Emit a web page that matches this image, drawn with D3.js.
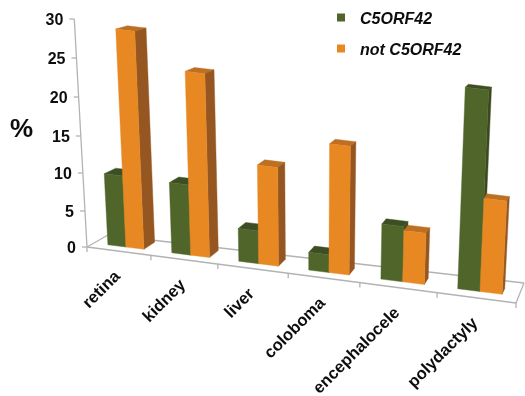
<!DOCTYPE html>
<html>
<head>
<meta charset="utf-8">
<script src="https://cdn.jsdelivr.net/npm/d3@7"></script>
<style>
    html, body { margin: 0; padding: 0; background: #fff; }
    svg { display: block; }
    text { font-family: "Liberation Sans", Arial, sans-serif; font-weight: bold; fill: #111; }
</style>
</head>
<body>
<svg width="525" height="396"></svg>
<script>
const categories = ["retina", "kidney", "liver", "coloboma", "encephalocele", "polydactyly"];
const c5orf42 = [9.7, 9.6, 4.6, 2.5, 7.6, 27];
const notC5orf42 = [29, 24.6, 13.5, 17.5, 7.1, 12.8];
const valueTicks = [0, 5, 10, 15, 20, 25, 30];
const legendLabels = ["C5ORF42", "not C5ORF42"];

const svg = d3.select("svg");

// floor corners of the 3d box
const floor = { fl: [87, 247], fr: [516, 303], bl: [108, 235], br: [524, 283] };
const vanish = { x: 310, dist: 4000 };

// category axis gets wider to the right, value axis a bit tighter near the floor
const scaleT = d3.scaleLinear().domain(d3.range(7)).range([0, 0.149, 0.305, 0.469, 0.636, 0.816, 1]);
const scaleH = d3.scaleLinear().domain(valueTicks).range([0, 36, 74, 111, 150, 189, 228]);

function project(t, d, v) {
    const u = scaleT(t);
    const mix = (a, b, k) => a + (b - a) * k;
    const frontX = mix(floor.fl[0], floor.fr[0], u);
    const frontY = mix(floor.fl[1], floor.fr[1], u);
    const backX = mix(floor.bl[0], floor.br[0], u);
    const backY = mix(floor.bl[1], floor.br[1], u);
    const h = scaleH(v);
    const fx = mix(frontX, backX, d);
    const dy = (backY - frontY) * d * (1 - h / 420);
    return [fx + (fx - vanish.x) / vanish.dist * h, frontY + dy - h];
}

const line = d3.line();

function drawLine(pts, group) {
    group.append("path")
        .attr("d", line(pts))
        .attr("fill", "none")
        .attr("stroke", "#b3b3b3")
        .attr("stroke-width", 1.3);
}

const defs = svg.append("defs");
defs.append("filter").attr("id", "soft")
    .append("feGaussianBlur").attr("stdDeviation", 0.45);
defs.append("filter").attr("id", "softText")
    .append("feGaussianBlur").attr("stdDeviation", 0.3);

const labels = svg.append("g").attr("filter", "url(#softText)");

// axes
const axes = svg.append("g");
drawLine([project(0, 0, 0), project(0, 0, 30)], axes);
drawLine([project(0, 0, 0), project(6, 0, 0)], axes);
drawLine([project(0, 1, 0), project(6, 1, 0)], axes);
drawLine([project(0, 0, 0), project(0, 1, 0)], axes);
drawLine([project(6, 0, 0), project(6, 1, 0)], axes);

valueTicks.forEach(v => {
    const p = project(0, 0, v);
    drawLine([p, [p[0] - 5, p[1]]], axes);
    labels.append("text")
        .attr("x", p[0] - 11)
        .attr("y", p[1] + 6)
        .attr("text-anchor", "end")
        .attr("font-size", 16)
        .text(v);
});

d3.range(7).forEach(t => {
    const p = project(t, 0, 0);
    drawLine([p, [p[0], p[1] + 5]], axes);
});

// bars
const bars = svg.append("g").attr("filter", "url(#soft)");
const spanDepth = d3.scaleLinear().domain([0, 5]).range([0.55, 0.3]);

function drawBar(t0, t1, d0, d1, v, colors) {
    const corners = (val) => [
        project(t0, d0, val), project(t1, d0, val),
        project(t1, d1, val), project(t0, d1, val)
    ];
    const base = corners(0);
    const top = corners(v);
    const face = (pts, fill) => bars.append("path")
        .attr("d", line(pts) + "Z")
        .attr("fill", fill)
        .attr("stroke", fill)
        .attr("stroke-width", 0.4);
    face(top, colors.top);
    face([base[1], base[2], top[2], top[1]], colors.side);
    face([base[0], base[1], top[1], top[0]], colors.front);
}

const green = { front: "#50652b", side: "#3a4a1f", top: "#3e4f22" };
const orange = { front: "#e78823", side: "#955720", top: "#bd6f22" };

categories.forEach((c, i) => {
    const d0 = 0.33;
    const d1 = d0 + spanDepth(i);
    drawBar(i + 0.22, i + 0.505, d0, d1, c5orf42[i], green);
    drawBar(i + 0.505, i + 0.79, d0, d1, notC5orf42[i], orange);
});

// category labels
categories.forEach((c, i) => {
    const p = project(i + 0.5, 0, 0);
    labels.append("text")
        .attr("transform", `translate(${p[0] + 2}, ${p[1] + 26}) rotate(-45)`)
        .attr("text-anchor", "end")
        .attr("font-size", 16.6)
        .text(c);
});

// % title
labels.append("text")
    .attr("x", 10)
    .attr("y", 137)
    .attr("font-size", 26)
    .text("%");

// legend
const legendY = d3.scalePoint().domain(legendLabels).range([17.5, 48.5]);
const legendColor = d3.scaleOrdinal().domain(legendLabels).range([green.front, orange.front]);

legendLabels.forEach(l => {
    svg.append("rect")
        .attr("x", 337)
        .attr("y", legendY(l) - 4)
        .attr("width", 8)
        .attr("height", 8)
        .attr("fill", legendColor(l));
    labels.append("text")
        .attr("x", 360)
        .attr("y", legendY(l) + 6)
        .attr("font-size", 16)
        .attr("font-style", "italic")
        .text(l);
});
</script>
</body>
</html>
